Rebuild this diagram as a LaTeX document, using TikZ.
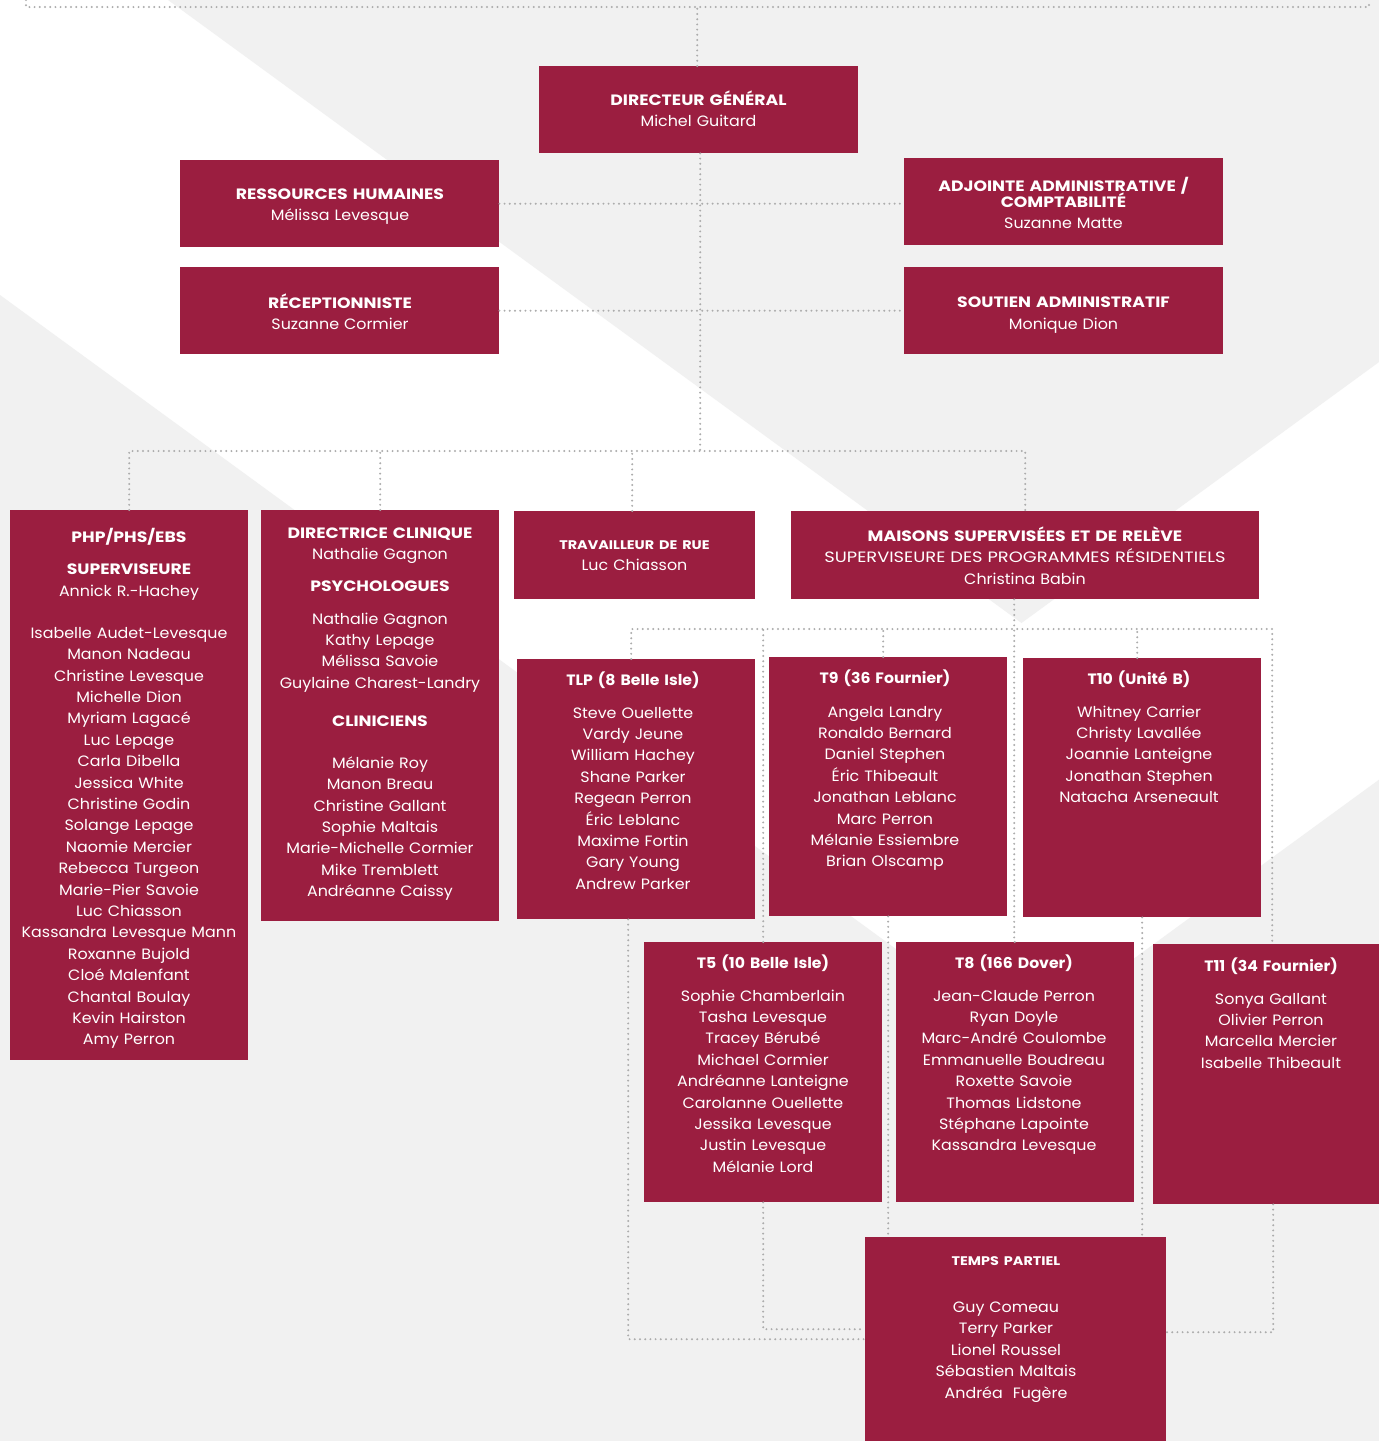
\documentclass[tikz,border=0pt]{standalone}
\usepackage{fontspec}
\setmainfont{Poppins}[FakeStretch=1.06]
\newfontfamily\capsbold{Poppins}[FakeStretch=1.15]
\newfontfamily\capsreg{Poppins}[FakeStretch=1.19]
\newfontfamily\mixbold{Poppins}[FakeStretch=1.045]
\definecolor{crim}{RGB}{155,30,64}
\definecolor{bgg}{RGB}{241,241,241}
\definecolor{dotc}{RGB}{172,172,172}
\tikzset{
  box/.style={rectangle, fill=crim, draw=none, inner sep=0pt, anchor=north west},
  txt/.style={text=white, align=center, anchor=base, inner sep=0pt,
    font=\fontsize{15}{21.4}\selectfont},
  conn/.style={draw=dotc, line width=2.2pt, line cap=round, dash pattern=on 0pt off 5.2pt},
}
\newcommand{\ttl}[1]{{\capsbold\bfseries #1}}
\newcommand{\mttl}[1]{{\mixbold\bfseries #1}}
\newcommand{\creg}[1]{{\capsreg #1}}
\newcommand{\smttl}[1]{{\fontsize{12.5}{21.4}\selectfont\capsbold\bfseries #1}}
\begin{document}
\begin{tikzpicture}[x=1pt,y=-1pt]
\useasboundingbox (0,0) rectangle (1379,1441);
% background
\fill[white] (0,0) rectangle (1379,1441);
\begin{scope}
\clip (0,0) rectangle (1379,1441);
\fill[bgg] (168,0) -- (1021.5,623) -- (1875,0) -- cycle;
\fill[bgg] (0,295) -- (1021.5,1040.6) -- (2043,295) -- (2043,1441) -- (0,1441) -- cycle;
\end{scope}

% boxes
\node[box, minimum width=319pt, minimum height=87pt] (dg) at (539,66) {};
\node[box, minimum width=319pt, minimum height=87pt] (rh) at (180,160) {};
\node[box, minimum width=319pt, minimum height=87pt] (adj) at (904,158) {};
\node[box, minimum width=319pt, minimum height=87pt] (rec) at (180,267) {};
\node[box, minimum width=319pt, minimum height=87pt] (sout) at (904,267) {};
\node[box, minimum width=238pt, minimum height=550pt] (php) at (10,510) {};
\node[box, minimum width=238pt, minimum height=411pt] (dc) at (261,510) {};
\node[box, minimum width=241pt, minimum height=88pt] (tr) at (514,511) {};
\node[box, minimum width=468pt, minimum height=88pt] (mais) at (791,511) {};
\node[box, minimum width=238pt, minimum height=260pt] (tlp) at (517,659) {};
\node[box, minimum width=238pt, minimum height=259pt] (t9) at (769,657) {};
\node[box, minimum width=238pt, minimum height=259pt] (t10) at (1023,658) {};
\node[box, minimum width=238pt, minimum height=260pt] (t5) at (644,942) {};
\node[box, minimum width=238pt, minimum height=260pt] (t8) at (896,942) {};
\node[box, minimum width=238pt, minimum height=260pt] (t11) at (1153,944) {};
\node[box, minimum width=301pt, minimum height=204pt] (tp) at (865,1237) {};

% texts
\node[txt, text width=310pt] (dg-t) at (698.5,105) {\ttl{DIRECTEUR GÉNÉRAL}\\Michel Guitard};
\node[txt, text width=310pt] (rh-t) at (340,199) {\ttl{RESSOURCES HUMAINES}\\Mélissa Levesque};
\node[txt, text width=310pt] (adj-t) at (1063.5,191) {\ttl{ADJOINTE ADMINISTRATIVE /}\\[-5.4pt]\ttl{COMPTABILITÉ}\\Suzanne Matte};
\node[txt, text width=310pt] (rec-t) at (340,308) {\ttl{RÉCEPTIONNISTE}\\Suzanne Cormier};
\node[txt, text width=310pt] (sout-t) at (1063.5,307) {\ttl{SOUTIEN ADMINISTRATIF}\\[0.6pt]Monique Dion};

\node[txt, text width=236pt] (php-t) at (129,542) {\ttl{PHP/PHS/EBS}\\[10.7pt]\ttl{SUPERVISEURE}\\[0.7pt]Annick R.-Hachey\\[20.7pt]Isabelle Audet-Levesque\\Manon Nadeau\\Christine Levesque\\Michelle Dion\\Myriam Lagacé\\Luc Lepage\\Carla Dibella\\Jessica White\\Christine Godin\\Solange Lepage\\Naomie Mercier\\Rebecca Turgeon\\Marie-Pier Savoie\\Luc Chiasson\\Kassandra Levesque Mann\\Roxanne Bujold\\Cloé Malenfant\\Chantal Boulay\\Kevin Hairston\\Amy Perron};

\node[txt, text width=236pt] (dc-t) at (380,538) {\ttl{DIRECTRICE CLINIQUE}\\[-0.4pt]Nathalie Gagnon\\[10.7pt]\ttl{PSYCHOLOGUES}\\[11.6pt]Nathalie Gagnon\\Kathy Lepage\\Mélissa Savoie\\Guylaine Charest-Landry\\[16.6pt]\ttl{CLINICIENS}\\[20.6pt]Mélanie Roy\\Manon Breau\\Christine Gallant\\Sophie Maltais\\Marie-Michelle Cormier\\Mike Tremblett\\Andréanne Caissy};

\node[txt, text width=238pt] (tr-t) at (634.5,549.5) {\smttl{TRAVAILLEUR DE RUE}\\[-0.4pt]Luc Chiasson};
\node[txt, text width=466pt] (mais-t) at (1025,541) {\ttl{MAISONS SUPERVISÉES ET DE RELÈVE}\\[-0.4pt]\creg{SUPERVISEURE DES PROGRAMMES RÉSIDENTIELS}\\[0.6pt]Christina Babin};

\node[txt, text width=236pt] (tlp-t) at (633,685) {\mttl{TLP (8 Belle Isle)}\\[11.6pt]Steve Ouellette\\Vardy Jeune\\William Hachey\\Shane Parker\\Regean Perron\\Éric Leblanc\\Maxime Fortin\\Gary Young\\Andrew Parker};
\node[txt, text width=236pt] (t9-t) at (885,683) {\mttl{T9 (36 Fournier)}\\[12.6pt]Angela Landry\\Ronaldo Bernard\\Daniel Stephen\\Éric Thibeault\\Jonathan Leblanc\\Marc Perron\\Mélanie Essiembre\\Brian Olscamp};
\node[txt, text width=236pt] (t10-t) at (1139,684) {\mttl{T10 (Unité B)}\\[11.6pt]Whitney Carrier\\Christy Lavallée\\Joannie Lanteigne\\Jonathan Stephen\\Natacha Arseneault};
\node[txt, text width=236pt] (t5-t) at (763,968) {\mttl{T5 (10 Belle Isle)}\\[11.6pt]Sophie Chamberlain\\Tasha Levesque\\Tracey Bérubé\\Michael Cormier\\Andréanne Lanteigne\\Carolanne Ouellette\\Jessika Levesque\\Justin Levesque\\Mélanie Lord};
\node[txt, text width=236pt] (t8-t) at (1014,968) {\mttl{T8 (166 Dover)}\\[11.6pt]Jean-Claude Perron\\Ryan Doyle\\Marc-André Coulombe\\Emmanuelle Boudreau\\Roxette Savoie\\Thomas Lidstone\\Stéphane Lapointe\\Kassandra Levesque};
\node[txt, text width=236pt] (t11-t) at (1271,971) {\mttl{T11 (34 Fournier)}\\[11.6pt]Sonya Gallant\\Olivier Perron\\Marcella Mercier\\Isabelle Thibeault};
\node[txt, text width=290pt] (tp-t) at (1006,1265.5) {\smttl{TEMPS PARTIEL}\\[25.6pt]Guy Comeau\\Terry Parker\\Lionel Roussel\\Sébastien Maltais\\Andréa\ \ Fugère};

% connectors
\coordinate (tl) at (26,0);
\coordinate (tr0) at (1369,0);
\coordinate (bus1) at (0,451);
\coordinate (bus2) at (0,629);
\coordinate (topbar) at (0,7);
\draw[conn] (tl) -- ++(0,7) -| (tr0);
\draw[conn] ([xshift=-1.5pt]dg.north) -- ([xshift=-1.5pt]dg.north |- topbar);
\draw[conn] ([xshift=1.5pt]dg.south) -- ([xshift=1.5pt]dg.south |- bus1);
\draw[conn] (rh.east) -- (rh.east -| adj.west);
\draw[conn] (rec.east) -- (sout.west);
\draw[conn] (php.north) |- ([yshift=0pt]bus1 -| mais.north) -- (mais.north);
\draw[conn] (dc.north) -- (dc.north |- bus1);
\draw[conn] ([xshift=-2.5pt]tr.north) -- ([xshift=-2.5pt]tr.north |- bus1);
\draw[conn] ([xshift=-11pt]mais.south) -- ([xshift=-11pt]mais.south |- t8.north) -- (t8.north);
\draw[conn] ([xshift=-5pt]tlp.north) |- (bus2 -| t11.north) -- (t11.north);
\draw[conn] (t5.north) -- (t5.north |- bus2);
\draw[conn] ([xshift=-5pt]t9.north) -- ([xshift=-5pt]t9.north |- bus2);
\draw[conn] ([xshift=-5pt]t10.north) -- ([xshift=-5pt]t10.north |- bus2);
\draw[conn] ([xshift=-8pt]tlp.south) |- (tp.west);
\draw[conn] (t5.south) |- ([yshift=10pt]tp.west);
\draw[conn] ([xshift=1pt]t11.south) |- ([yshift=7pt]tp.east);
\draw[conn] (t9.south) -- (t9.south |- tp.north);
\draw[conn] (t10.south) -- (t10.south |- tp.north);
\end{tikzpicture}
\end{document}
